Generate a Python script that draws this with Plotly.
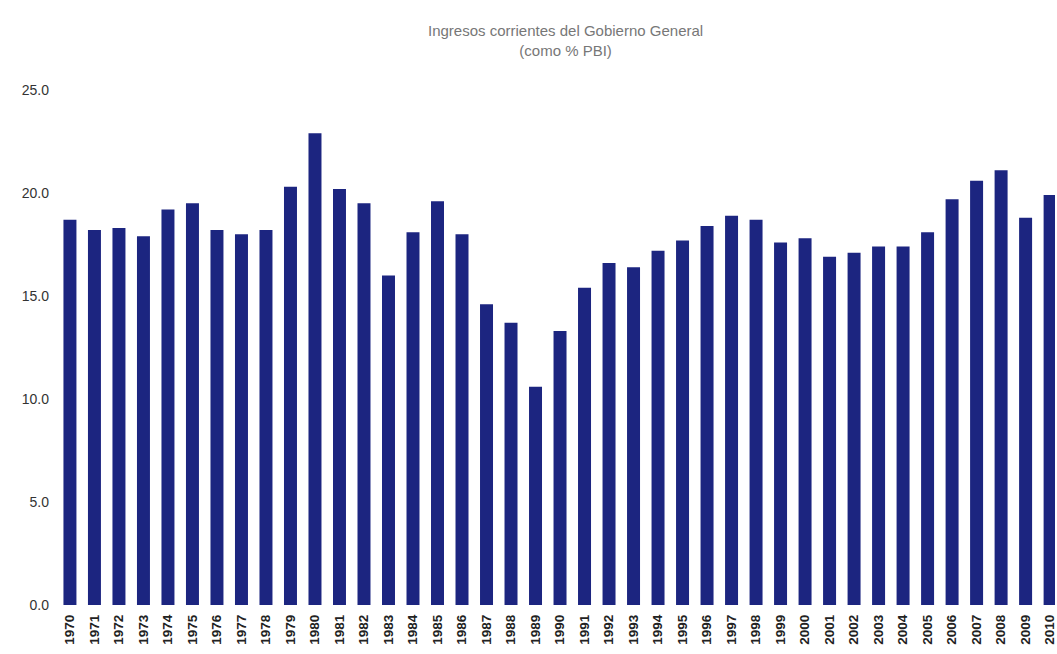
import plotly.graph_objects as go

years = [str(y) for y in range(1970, 2011)]
values = [18.7, 18.2, 18.3, 17.9, 19.2, 19.5, 18.2, 18.0, 18.2, 20.3,
          22.9, 20.2, 19.5, 16.0, 18.1, 19.6, 18.0, 14.6, 13.7, 10.6,
          13.3, 15.4, 16.6, 16.4, 17.2, 17.7, 18.4, 18.9, 18.7, 17.6,
          17.8, 16.9, 17.1, 17.4, 17.4, 18.1, 19.7, 20.6, 21.1, 18.8,
          19.9]
y_ticks = [0, 5, 10, 15, 20, 25]
y_tick_labels = ["0.0", "5.0", "10.0", "15.0", "20.0", "25.0"]
title_lines = ["Ingresos corrientes del Gobierno General", "(como % PBI)"]

fig = go.Figure()
fig.add_trace(go.Bar(x=years, y=values, marker=dict(color="#1c2580", line=dict(width=0)),
                     width=0.53))

fig.update_layout(
    width=1057, height=654,
    margin=dict(l=55, r=0, t=90, b=49),
    paper_bgcolor="white", plot_bgcolor="white",
    showlegend=False,
    font=dict(family="Liberation Sans, Arial, sans-serif"),
    xaxis=dict(type="category", range=[-0.61, 40.2], tickangle=-90,
               showgrid=False, showline=False, zeroline=False, ticks="",
               ticklabelstandoff=6,
               tickfont=dict(size=13.5, color="#222")),
    yaxis=dict(range=[0, 25], tickvals=y_ticks, ticktext=y_tick_labels,
               showgrid=False, showline=False, zeroline=False, ticks="",
               ticklabelstandoff=5,
               tickfont=dict(size=14, color="#333")),
    annotations=[
        dict(text="<br>".join(title_lines), xref="paper", yref="paper",
             x=0.51, y=1.0, yshift=70, xanchor="center", yanchor="top",
             showarrow=False, font=dict(size=15, color="#777"))
    ],
)
fig.update_xaxes(tickprefix="<b>", ticksuffix="</b>")
fig.update_yaxes(tickprefix="<b>", ticksuffix="</b>")

fig.write_html("out.html")
